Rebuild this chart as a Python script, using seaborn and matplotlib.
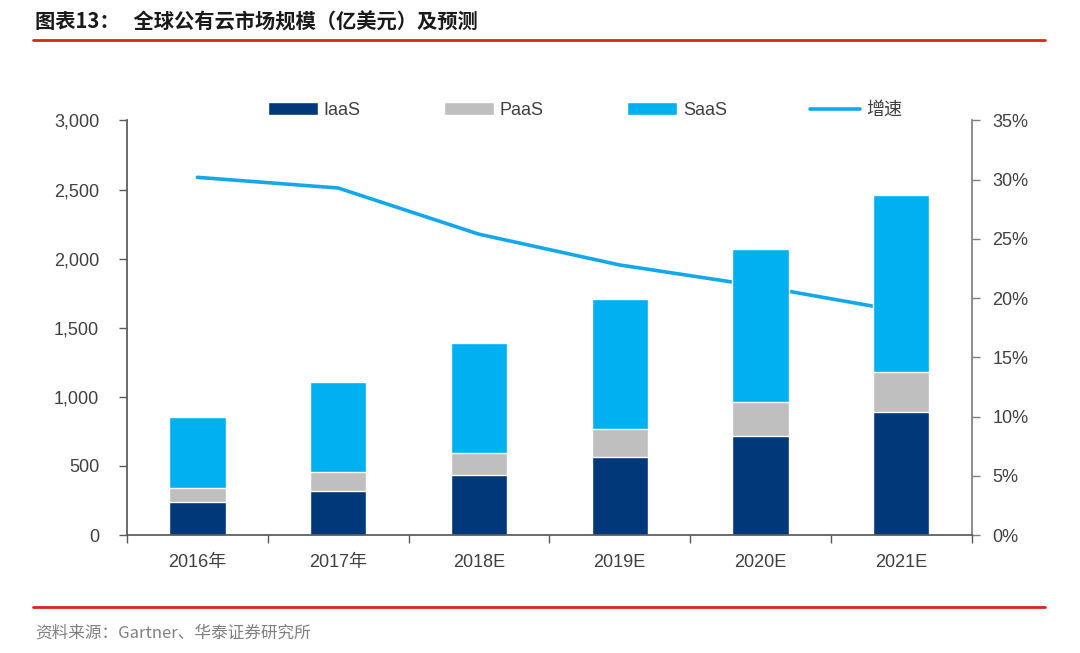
import seaborn as sns
import pandas as pd
import numpy as np
import matplotlib.pyplot as plt
from matplotlib.lines import Line2D
from matplotlib.ticker import FuncFormatter, PercentFormatter, FixedLocator

years = ["2016年", "2017年", "2018E", "2019E", "2020E", "2021E"]
iaas = [237, 321, 434, 567, 719, 890]
paas = [105, 133, 157, 198, 244, 292]
saas = [514, 653, 799, 945, 1107, 1279]
growth = [30.2, 29.3, 25.4, 22.8, 21.0, 18.9]

c_iaas = "#00387A"
c_paas = "#BFBFBF"
c_saas = "#00B0F0"
c_line = "#13A8EC"
txt = "#404040"

sns.set_theme(style="white")
plt.rcParams["font.family"] = ["Liberation Sans", "Noto Sans CJK SC", "DejaVu Sans"]

df = pd.DataFrame({"year": years, "IaaS": iaas, "PaaS": paas, "SaaS": saas, "growth": growth})
df["ip"] = df["IaaS"] + df["PaaS"]
df["total"] = df["ip"] + df["SaaS"]

fig = plt.figure(figsize=(10.8, 6.53), dpi=100)
ax = fig.add_axes([0.1176, 0.1807, 0.782, 0.6348])
ax2 = ax.twinx()

# growth line sits behind the bars
sns.pointplot(data=df, x="year", y="growth", ax=ax2, color=c_line, markers="",
              linewidth=2.6, label="增速")
ax.set_zorder(ax2.get_zorder() + 1)
ax.patch.set_visible(False)

# stacked bars drawn as overlapping cumulative totals
sns.barplot(data=df, x="year", y="total", ax=ax, color=c_saas, width=0.4,
            saturation=1, label="SaaS")
sns.barplot(data=df, x="year", y="ip", ax=ax, color=c_paas, width=0.4,
            saturation=1, label="PaaS")
sns.barplot(data=df, x="year", y="IaaS", ax=ax, color=c_iaas, width=0.4,
            saturation=1, label="IaaS")

h, l = ax.get_legend_handles_labels()
hd = dict(zip(l, h))
for a in (ax, ax2):
    if a.get_legend() is not None:
        a.get_legend().remove()

ax.set_ylim(0, 3000)
ax.set_yticks(np.arange(0, 3001, 500))
ax.yaxis.set_major_formatter(FuncFormatter(lambda v, p: f"{int(v):,}"))
ax2.set_ylim(0, 35)
ax2.set_yticks(np.arange(0, 36, 5))
ax2.yaxis.set_major_formatter(PercentFormatter(decimals=0))
ax.set_xlim(-0.5, len(years) - 0.5)
ax.set_xlabel("")
ax.set_ylabel("")
ax2.set_xlabel("")
ax2.set_ylabel("")

for a in (ax, ax2):
    for s in a.spines.values():
        s.set_visible(False)
ax.spines["left"].set_visible(True)
ax.spines["bottom"].set_visible(True)
ax2.spines["right"].set_visible(True)
ax.spines["left"].set_color("#595959")
ax.spines["bottom"].set_color("#595959")
ax2.spines["right"].set_color("#7f7f7f")

ax.tick_params(axis="y", which="major", direction="out", length=6, width=1,
               color="#595959", labelsize=13, labelcolor=txt, pad=14, left=True)
ax2.tick_params(axis="y", which="major", direction="out", length=6, width=1,
                color="#7f7f7f", labelsize=13, labelcolor=txt, pad=9, right=True)
ax.tick_params(axis="x", which="major", length=0, labelsize=13, labelcolor=txt, pad=14)
ax.xaxis.set_minor_locator(FixedLocator(np.arange(-0.5, len(years), 1.0)))
ax.tick_params(axis="x", which="minor", direction="out", length=6, width=1,
               color="#595959", bottom=True)

line_h = Line2D([], [], color=c_line, linewidth=2.6)
fig.legend([hd["IaaS"], hd["PaaS"], hd["SaaS"], line_h], ["IaaS", "PaaS", "SaaS", "增速"],
           ncol=4, loc="center", bbox_to_anchor=(0.5415, 0.831), frameon=False,
           fontsize=13, handlelength=2.8, handleheight=0.7, handletextpad=0.3,
           columnspacing=4.6, labelcolor=txt)

fig.text(0.0324, 0.966, "图表13：   全球公有云市场规模（亿美元）及预测", fontsize=14.6,
         fontweight="bold", color="#1a1a1a", va="center", ha="left",
         family=["Noto Sans CJK SC", "DejaVu Sans"])
fig.add_artist(Line2D([0.0306, 0.9676], [0.9387, 0.9387], color="#D9261C", linewidth=2))
fig.add_artist(Line2D([0.0306, 0.9676], [0.0704, 0.0704], color="#D9261C", linewidth=2))
fig.text(0.0324, 0.0306, "资料来源：Gartner、华泰证券研究所", fontsize=12, color="#808080",
         va="center", ha="left", family=["Noto Sans CJK SC", "DejaVu Sans"])

fig.savefig("out.png", dpi=100)
